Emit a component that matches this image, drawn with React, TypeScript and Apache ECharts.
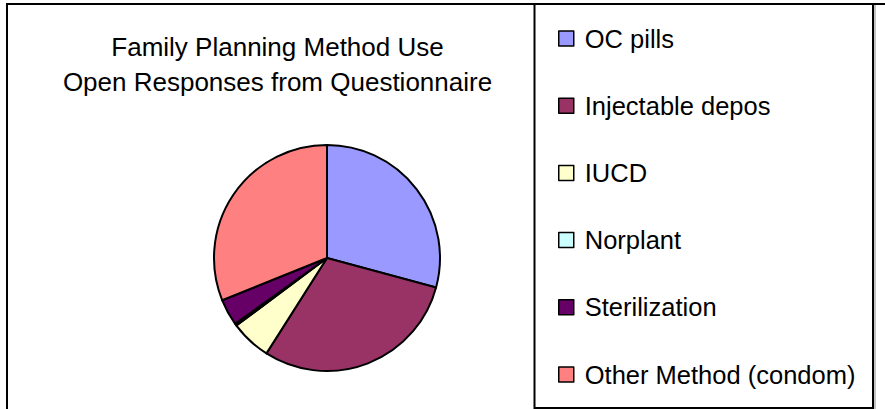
import React, { useEffect, useRef } from "react";
import * as echarts from "echarts";

const titleLines = ["Family Planning Method Use", "Open Responses from Questionnaire"];
const categories = ["OC pills", "Injectable depos", "IUCD", "Norplant", "Sterilization", "Other Method (condom)"];
const values = [29.2, 29.8, 5.8, 0.3, 3.8, 31.1];
const colors = ["#9999FF", "#993366", "#FFFFCC", "#CCFFFF", "#660066", "#FF8080"];

const FONT = '"Liberation Sans", Arial, sans-serif';

export default function App() {
  const ref = useRef<HTMLDivElement>(null);
  useEffect(() => {
    document.body.style.margin = "0";
    if (!ref.current) return;
    const chart = echarts.init(ref.current, undefined, { renderer: "svg" });
    chart.setOption({
      animation: false,
      backgroundColor: "#ffffff",
      color: colors,
      legend: {
        orient: "vertical",
        left: 558,
        top: 25.5,
        padding: 0,
        itemWidth: 15,
        itemHeight: 15,
        itemGap: 41.2,
        icon: "rect",
        selectedMode: false,
        itemStyle: { borderColor: "#000", borderWidth: 1.5 },
        textStyle: {
          fontFamily: FONT,
          fontSize: 25.5,
          lineHeight: 26,
          color: "#000",
          padding: [0, 0, 0, 6],
        },
        data: categories,
      },
      graphic: [
        { type: "line", shape: { x1: 6, y1: 4, x2: 885, y2: 4 }, style: { stroke: "#000", lineWidth: 2 } },
        { type: "line", shape: { x1: 7, y1: 3, x2: 7, y2: 409 }, style: { stroke: "#000", lineWidth: 2 } },
        { type: "rect", shape: { x: 534.5, y: 4, width: 338.5, height: 404 }, style: { fill: "none", stroke: "#000", lineWidth: 2 } },
        { type: "line", shape: { x1: 875, y1: 5, x2: 875, y2: 409 }, style: { stroke: "#b0b0b0", lineWidth: 1.5 } },
        {
          type: "text",
          x: 277.5,
          y: 47.3,
          style: { text: titleLines[0], fontFamily: FONT, fontSize: 26, fill: "#000", align: "center", verticalAlign: "middle" },
        },
        {
          type: "text",
          x: 277.5,
          y: 82,
          style: { text: titleLines[1], fontFamily: FONT, fontSize: 26, fill: "#000", align: "center", verticalAlign: "middle" },
        },
      ],
      series: [
        {
          type: "pie",
          center: [327, 258],
          radius: 113,
          startAngle: 90,
          clockwise: true,
          avoidLabelOverlap: false,
          label: { show: false },
          labelLine: { show: false },
          emphasis: { disabled: true },
          itemStyle: { borderColor: "#000", borderWidth: 2 },
          data: categories.map((name, i) => ({ name, value: values[i] })),
        },
      ],
    });
    return () => chart.dispose();
  }, []);
  return <div ref={ref} style={{ width: 885, height: 409 }} />;
}
